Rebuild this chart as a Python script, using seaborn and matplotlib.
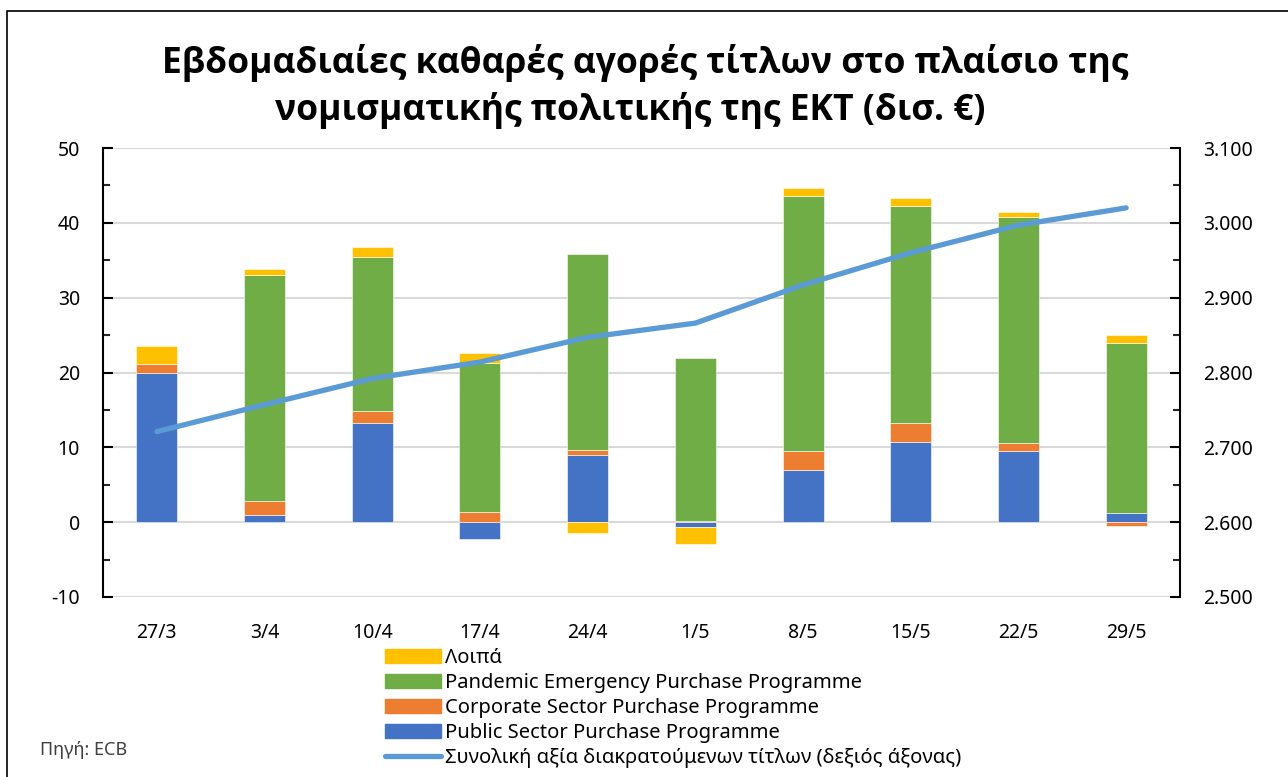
import seaborn as sns
import matplotlib.pyplot as plt
import matplotlib.ticker as mticker
from matplotlib.patches import Rectangle, Patch
from matplotlib.lines import Line2D
import numpy as np
import pandas as pd

# Δεδομένα (δισ. €)
weeks = ['27/3', '3/4', '10/4', '17/4', '24/4', '1/5', '8/5', '15/5', '22/5', '29/5']
pspp = [20.0, 0.9, 13.3, -2.2, 9.0, -0.7, 7.0, 10.7, 9.5, 1.2]
cspp = [1.2, 1.9, 1.6, 1.3, 0.7, 0.1, 2.5, 2.5, 1.1, -0.5]
pepp = [0.0, 30.2, 20.6, 20.0, 26.1, 21.9, 34.1, 29.0, 30.2, 22.8]
loipa = [2.4, 0.8, 1.3, 1.3, -1.5, -2.2, 1.1, 1.1, 0.6, 1.0]
total_holdings = [2721, 2757, 2792, 2814, 2847, 2866, 2917, 2960, 2997, 3020]

series_names = ['Public Sector Purchase Programme', 'Corporate Sector Purchase Programme',
                'Pandemic Emergency Purchase Programme', 'Λοιπά']
series_values = [pspp, cspp, pepp, loipa]
colors = ['#4472C4', '#ED7D31', '#70AD47', '#FFC000']
line_name = 'Συνολική αξία διακρατούμενων τίτλων (δεξιός άξονας)'
line_color = '#5B9BD5'

sns.set_theme(style='white')
plt.rcParams['font.family'] = ['Noto Sans', 'DejaVu Sans']
plt.rcParams['axes.unicode_minus'] = False
plt.rcParams['text.color'] = 'black'

fig = plt.figure(figsize=(12.88, 7.77), dpi=100)
ax = fig.add_axes([103 / 1288, 1 - 597 / 777, (1180 - 103) / 1288, (597 - 148) / 777])

# Στοίβαξη όπως στο Excel: θετικά προς τα πάνω, αρνητικά προς τα κάτω
x = np.arange(len(weeks))
pos_base = np.zeros(len(weeks))
neg_base = np.zeros(len(weeks))
for vals, col in zip(series_values, colors):
    v = np.array(vals)
    bottoms = np.where(v >= 0, pos_base, neg_base)
    ax.bar(x, v, bottom=bottoms, width=0.38, color=col, edgecolor='white', linewidth=0.4, zorder=3)
    pos_base += np.where(v >= 0, v, 0)
    neg_base += np.where(v < 0, v, 0)

ax.set_xlim(-0.5, len(weeks) - 0.5)
ax.set_ylim(-10, 50)
ax.set_yticks(range(-10, 51, 10))
ax.yaxis.set_minor_locator(mticker.MultipleLocator(5))
ax.set_xticks(x)
ax.set_xticklabels(weeks)
ax.grid(axis='y', color='#D9D9D9', linewidth=1.5, zorder=0)
ax.set_axisbelow(True)
for s in ['top', 'bottom', 'right']:
    ax.spines[s].set_visible(False)
ax.spines['left'].set_color('black')
ax.spines['left'].set_linewidth(1.5)
ax.tick_params(axis='y', which='major', direction='in', length=7, width=1.5, labelsize=14, pad=16.5, colors='black')
ax.tick_params(axis='y', which='minor', direction='in', length=5, width=1.5, left=True)
ax.tick_params(axis='x', length=0, labelsize=14, pad=19, colors='black')

ax2 = ax.twinx()
df = pd.DataFrame({'week': x, 'total': total_holdings})
sns.lineplot(data=df, x='week', y='total', ax=ax2, color=line_color, linewidth=3.8,
             solid_capstyle='round', zorder=4)
ax2.set_ylim(2500, 3100)
ax2.set_yticks(range(2500, 3101, 100))
ax2.yaxis.set_minor_locator(mticker.MultipleLocator(50))
ax2.yaxis.set_major_formatter(mticker.FuncFormatter(lambda v, p: f'{v:,.0f}'.replace(',', '.')))
ax2.set_xlabel('')
ax2.set_ylabel('')
ax2.set_xlim(-0.5, len(weeks) - 0.5)
for s in ['top', 'bottom', 'left']:
    ax2.spines[s].set_visible(False)
ax2.spines['right'].set_color('black')
ax2.spines['right'].set_linewidth(1.5)
ax2.tick_params(axis='y', which='major', direction='in', length=7, width=1.5, labelsize=14, pad=16.5, colors='black')
ax2.tick_params(axis='y', which='minor', direction='in', length=5, width=1.5, right=True)
ax.set_zorder(ax2.get_zorder() - 1)
ax2.patch.set_visible(False)
ax.patch.set_visible(False)

# Τίτλος
title_font = dict(ha='center', va='baseline', fontsize=25.5, fontweight='bold', color='black',
                  family=['Open Sans', 'DejaVu Sans'])
fig.text(645 / 1288, 1 - 73 / 777, 'Εβδομαδιαίες καθαρές αγορές τίτλων στο πλαίσιο της', **title_font)
fig.text(630 / 1288, 1 - 120 / 777, 'νομισματικής πολιτικής της ΕΚΤ (δισ. €)', **title_font)

# Υπόμνημα
handles = [Patch(color=colors[3]), Patch(color=colors[2]), Patch(color=colors[1]), Patch(color=colors[0]),
           Line2D([0], [0], color=line_color, linewidth=3.8, solid_capstyle='round')]
labels = [series_names[3], series_names[2], series_names[1], series_names[0], line_name]
fig.legend(handles, labels, loc='upper left', bbox_to_anchor=(385 / 1288, 1 - 648 / 777),
           frameon=False, fontsize=14.5, handlelength=2.8, handleheight=0.75, handletextpad=0.2,
           labelspacing=0.25, borderpad=0, borderaxespad=0)

fig.text(40 / 1288, 1 - 750 / 777, 'Πηγή: ECB', ha='left', va='center', fontsize=13, color='#404040')

fig.patches.append(Rectangle((7 / 1288, -0.05), 1.05, 1 - 11 / 777 + 0.05, transform=fig.transFigure,
                             fill=False, edgecolor='black', linewidth=1.2))

fig.savefig('out.png', dpi=100)
